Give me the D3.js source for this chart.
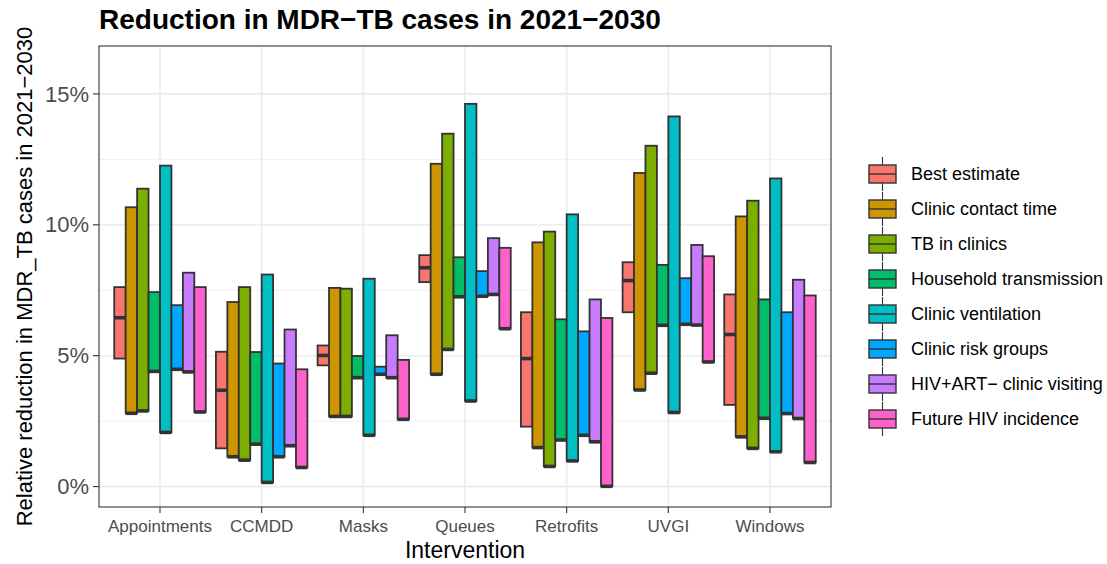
<!DOCTYPE html>
<html>
<head>
<meta charset="utf-8">
<script src="https://cdn.jsdelivr.net/npm/d3@7"></script>
<style>
  body { margin: 0; background: #fff; }
  text { font-family: "Liberation Sans", Arial, sans-serif; }
</style>
</head>
<body>
<div id="chart"></div>
<script>

var interventions = ["Appointments", "CCMDD", "Masks", "Queues", "Retrofits", "UVGI", "Windows"];

var scenarios = ["Best estimate", "Clinic contact time", "TB in clinics", "Household transmission",
    "Clinic ventilation", "Clinic risk groups", "HIV+ART\u2212 clinic visiting", "Future HIV incidence"];

var colors = ["#F8766D", "#CD9600", "#7CAE00", "#00BE67", "#00BFC4", "#00A9FF", "#C77CFF", "#FF61CC"];

// one row per scenario, one value per intervention (percent)
var lows = [
    [4.89, 1.46, 4.63, 7.81, 2.29, 6.66, 3.12],
    [2.80, 1.14, 2.68, 4.29, 1.49, 3.69, 1.90],
    [2.89, 1.01, 2.68, 5.24, 0.77, 4.33, 1.46],
    [4.40, 1.62, 4.16, 7.25, 1.78, 6.16, 2.61],
    [2.07, 0.16, 1.96, 3.27, 0.98, 2.83, 1.33],
    [4.48, 1.14, 4.29, 7.27, 1.96, 6.20, 2.79],
    [4.38, 1.56, 4.16, 7.34, 1.71, 6.17, 2.60],
    [2.85, 0.73, 2.57, 6.03, 0.01, 4.76, 0.92]
];

var highs = [
    [7.62, 5.15, 5.39, 8.84, 6.66, 8.57, 7.34],
    [10.67, 7.05, 7.59, 12.33, 9.33, 11.98, 10.32],
    [11.38, 7.62, 7.56, 13.48, 9.74, 13.02, 10.92],
    [7.43, 5.14, 4.99, 8.76, 6.39, 8.47, 7.15],
    [12.26, 8.10, 7.94, 14.62, 10.40, 14.14, 11.77],
    [6.93, 4.70, 4.58, 8.23, 5.93, 7.96, 6.66],
    [8.17, 6.00, 5.78, 9.49, 7.15, 9.23, 7.90],
    [7.62, 4.48, 4.84, 9.12, 6.44, 8.80, 7.30]
];

// middle line: best estimate has its own, the others sit on the low end
var bestMid = [6.45, 3.68, 5.01, 8.36, 4.89, 7.87, 5.81];

var yTicks = [0, 5, 10, 15];
var yMinor = [2.5, 7.5, 12.5];

var W = 1107, H = 564;
var panel = { left: 99, right: 831, top: 46, bottom: 507 };

var svg = d3.select("#chart").append("svg")
    .attr("width", W)
    .attr("height", H);

var x = d3.scaleBand()
    .domain(interventions)
    .range([panel.left, panel.right])
    .paddingInner(0)
    .paddingOuter(0.1);

var bw = x.bandwidth();

var xs = d3.scaleBand()
    .domain(scenarios)
    .range([bw * 0.05, bw * 0.95]);

var y = d3.scaleLinear()
    .domain([-0.78, 16.83])
    .range([panel.bottom, panel.top]);

var color = d3.scaleOrdinal().domain(scenarios).range(colors);

// grid
var grid = svg.append("g");
grid.selectAll("line.minor")
    .data(yMinor)
    .join("line")
    .attr("x1", panel.left).attr("x2", panel.right)
    .attr("y1", d => y(d)).attr("y2", d => y(d))
    .attr("stroke", "#EBEBEB").attr("stroke-width", 0.8);
grid.selectAll("line.majy")
    .data(yTicks)
    .join("line")
    .attr("x1", panel.left).attr("x2", panel.right)
    .attr("y1", d => y(d)).attr("y2", d => y(d))
    .attr("stroke", "#EBEBEB").attr("stroke-width", 1.6);
grid.selectAll("line.majx")
    .data(interventions)
    .join("line")
    .attr("x1", d => x(d) + bw / 2).attr("x2", d => x(d) + bw / 2)
    .attr("y1", panel.top).attr("y2", panel.bottom)
    .attr("stroke", "#EBEBEB").attr("stroke-width", 1.6);

// bars
var rows = [];
scenarios.forEach(function(s, i) {
    interventions.forEach(function(c, j) {
        rows.push({
            scenario: s,
            intervention: c,
            lo: lows[i][j],
            hi: highs[i][j],
            mid: i === 0 ? bestMid[j] : lows[i][j]
        });
    });
});

var bars = svg.append("g").selectAll("g")
    .data(rows)
    .join("g")
    .attr("transform", d => "translate(" + (x(d.intervention) + xs(d.scenario)) + ",0)");

bars.append("rect")
    .attr("x", 0)
    .attr("width", xs.bandwidth())
    .attr("y", d => y(d.hi))
    .attr("height", d => y(d.lo) - y(d.hi))
    .attr("fill", d => color(d.scenario))
    .attr("stroke", "#333333")
    .attr("stroke-width", 1.8);

bars.append("line")
    .attr("x1", 0).attr("x2", xs.bandwidth())
    .attr("y1", d => y(d.mid)).attr("y2", d => y(d.mid))
    .attr("stroke", "#333333")
    .attr("stroke-width", 3.6);

// panel border
svg.append("rect")
    .attr("x", panel.left).attr("y", panel.top)
    .attr("width", panel.right - panel.left)
    .attr("height", panel.bottom - panel.top)
    .attr("fill", "none")
    .attr("stroke", "#333333")
    .attr("stroke-width", 1.1);

// y axis
var yAxis = svg.append("g");
yAxis.selectAll("line")
    .data(yTicks)
    .join("line")
    .attr("x1", panel.left - 6).attr("x2", panel.left)
    .attr("y1", d => y(d)).attr("y2", d => y(d))
    .attr("stroke", "#333333").attr("stroke-width", 1.1);
yAxis.selectAll("text")
    .data(yTicks)
    .join("text")
    .attr("x", panel.left - 10)
    .attr("y", d => y(d))
    .attr("dy", "0.35em")
    .attr("text-anchor", "end")
    .style("font-size", "22px")
    .style("fill", "#4D4D4D")
    .text(d => d + "%");

// x axis
var xAxis = svg.append("g");
xAxis.selectAll("line")
    .data(interventions)
    .join("line")
    .attr("x1", d => x(d) + bw / 2).attr("x2", d => x(d) + bw / 2)
    .attr("y1", panel.bottom).attr("y2", panel.bottom + 6)
    .attr("stroke", "#333333").attr("stroke-width", 1.1);
xAxis.selectAll("text")
    .data(interventions)
    .join("text")
    .attr("x", d => x(d) + bw / 2)
    .attr("y", panel.bottom + 25)
    .attr("text-anchor", "middle")
    .style("font-size", "17px")
    .style("fill", "#4D4D4D")
    .text(d => d);

// titles
svg.append("text")
    .attr("x", panel.left)
    .attr("y", 29)
    .style("font-size", "28px")
    .style("font-weight", "700")
    .style("fill", "#000")
    .text("Reduction in MDR\u2212TB cases in 2021\u22122030");

svg.append("text")
    .attr("x", (panel.left + panel.right) / 2)
    .attr("y", 558)
    .attr("text-anchor", "middle")
    .style("font-size", "23px")
    .style("fill", "#000")
    .text("Intervention");

svg.append("text")
    .attr("transform", "translate(32," + ((panel.top + panel.bottom) / 2) + ") rotate(-90)")
    .attr("text-anchor", "middle")
    .style("font-size", "22px")
    .style("fill", "#000")
    .text("Relative reduction in MDR_TB cases in 2021\u22122030");

// legend
var legend = svg.append("g")
    .selectAll("g")
    .data(scenarios)
    .join("g")
    .attr("transform", (d, i) => "translate(869," + (174 + i * 35) + ")");

legend.append("line")
    .attr("x1", 13.5).attr("x2", 13.5)
    .attr("y1", -17).attr("y2", 17)
    .attr("stroke", "#333333").attr("stroke-width", 1.1);

legend.append("rect")
    .attr("x", 0).attr("y", -9)
    .attr("width", 27).attr("height", 18)
    .attr("fill", d => color(d))
    .attr("stroke", "#333333")
    .attr("stroke-width", 1.4);

legend.append("line")
    .attr("x1", 0).attr("x2", 27)
    .attr("y1", 0).attr("y2", 0)
    .attr("stroke", "#333333").attr("stroke-width", 1.4);

legend.append("text")
    .attr("x", 42)
    .attr("y", 0)
    .attr("dy", "0.35em")
    .style("font-size", "18px")
    .style("fill", "#000")
    .text(d => d);

</script>
</body>
</html>
